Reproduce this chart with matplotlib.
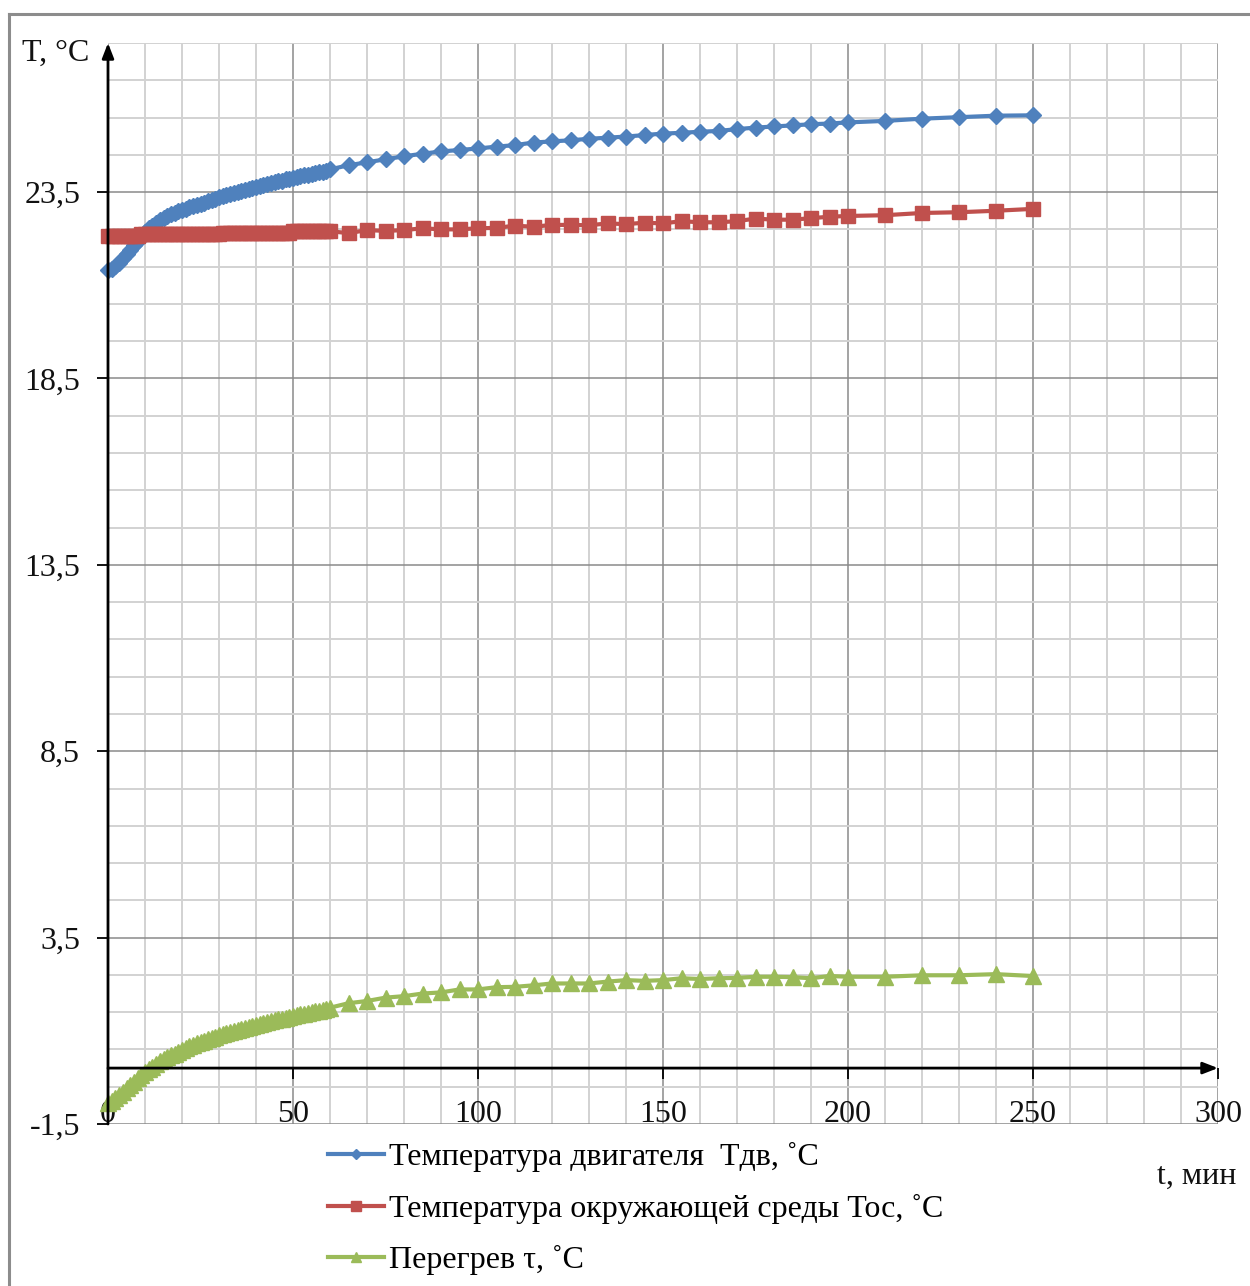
import matplotlib
matplotlib.use("Agg")
import matplotlib.pyplot as plt
from matplotlib.lines import Line2D
from matplotlib.ticker import MultipleLocator, FixedLocator, FuncFormatter
import numpy as np

plt.rcParams['font.family'] = ['Liberation Serif', 'DejaVu Serif']

# time, min: every minute up to 60, then every 5 min up to 200, then every 10 min
time_min = list(range(0, 61)) + list(range(65, 201, 5)) + list(range(210, 251, 10))

# motor temperature, °C
t_motor = [
    21.42, 21.45, 21.52, 21.60, 21.72, 21.84, 21.96, 22.08, 22.20, 22.32,
    22.44, 22.53, 22.60, 22.67, 22.74, 22.80, 22.85, 22.90, 22.94, 22.98,
    23.02, 23.06, 23.09, 23.13, 23.16, 23.19, 23.22, 23.25, 23.28, 23.31,
    23.36, 23.39, 23.42, 23.44, 23.47, 23.50, 23.53, 23.56, 23.59, 23.62,
    23.64, 23.67, 23.69, 23.72, 23.74, 23.77, 23.79, 23.81, 23.84, 23.86,
    23.88, 23.90, 23.93, 23.95, 23.97, 23.99, 24.01, 24.03, 24.05, 24.07,
    24.11,
    24.22, 24.30, 24.38, 24.46, 24.53, 24.59, 24.63, 24.67, 24.72, 24.76,
    24.83, 24.86, 24.89, 24.93, 24.96, 24.99, 25.03, 25.07, 25.09, 25.12,
    25.14, 25.19, 25.23, 25.26, 25.29, 25.32, 25.34, 25.37,
    25.41, 25.47, 25.51, 25.55, 25.56,
]

# ambient temperature, °C
t_ambient = [
    22.32, 22.32, 22.32, 22.32, 22.32, 22.32, 22.32, 22.32, 22.32, 22.37,
    22.37, 22.37, 22.37, 22.37, 22.37, 22.37, 22.37, 22.37, 22.37, 22.37,
    22.37, 22.37, 22.37, 22.37, 22.37, 22.37, 22.37, 22.37, 22.37, 22.37,
    22.37, 22.41, 22.41, 22.41, 22.41, 22.41, 22.41, 22.41, 22.41, 22.41,
    22.41, 22.41, 22.41, 22.41, 22.41, 22.41, 22.41, 22.41, 22.41, 22.41,
    22.45, 22.45, 22.45, 22.45, 22.45, 22.45, 22.45, 22.45, 22.45, 22.45,
    22.45,
    22.40, 22.48, 22.46, 22.48, 22.53, 22.50, 22.50, 22.53, 22.54, 22.60,
    22.57, 22.62, 22.62, 22.61, 22.66, 22.64, 22.68, 22.66, 22.72, 22.69,
    22.69, 22.72, 22.79, 22.76, 22.76, 22.80, 22.84, 22.86,
    22.88, 22.94, 22.96, 23.00, 23.05,
]

# overheating, °C
t_overheat = [
    -0.95, -0.88, -0.80, -0.72, -0.63, -0.54, -0.45, -0.36, -0.27, -0.18,
    -0.10, -0.03, 0.04, 0.11, 0.18, 0.24, 0.29, 0.34, 0.39, 0.44,
    0.49, 0.53, 0.58, 0.62, 0.66, 0.70, 0.74, 0.77, 0.81, 0.84,
    0.88, 0.91, 0.94, 0.97, 1.00, 1.03, 1.06, 1.08, 1.11, 1.14,
    1.16, 1.19, 1.21, 1.24, 1.26, 1.29, 1.31, 1.33, 1.35, 1.38,
    1.40, 1.42, 1.44, 1.46, 1.48, 1.50, 1.52, 1.54, 1.56, 1.58,
    1.62,
    1.74, 1.80, 1.89, 1.93, 2.00, 2.03, 2.11, 2.11, 2.17, 2.18,
    2.22, 2.27, 2.27, 2.27, 2.32, 2.36, 2.34, 2.36, 2.41, 2.39,
    2.41, 2.42, 2.45, 2.45, 2.44, 2.41, 2.47, 2.45,
    2.45, 2.49, 2.49, 2.52, 2.47,
]

series_labels = [
    'Температура двигателя  Тдв, ˚С',
    'Температура окружающей среды Тос, ˚С',
    'Перегрев τ, ˚С',
]
colors = ['#4F81BD', '#C0504D', '#9BBB59']
markers = ['D', 's', '^']
marker_sizes = [8.0, 10.0, 11.0]

x_ticks = [0, 50, 100, 150, 200, 250, 300]
y_ticks = [-1.5, 3.5, 8.5, 13.5, 18.5, 23.5]

W, H = 1250, 1286
fig = plt.figure(figsize=(W / 100, H / 100), dpi=100)
ax = fig.add_axes([108 / W, 1 - 1124 / H, (1218 - 108) / W, (1124 - 43) / H])

ax.set_xlim(0, 300)
ax.set_ylim(-1.5, 27.5)

ax.xaxis.set_major_locator(FixedLocator(x_ticks))
ax.xaxis.set_minor_locator(MultipleLocator(10))
ax.yaxis.set_major_locator(FixedLocator(y_ticks))
ax.yaxis.set_minor_locator(FixedLocator(np.arange(-1.5, 27.6, 1.0)))
ax.yaxis.set_major_formatter(FuncFormatter(lambda v, p: f"{v:.1f}".replace('.', ',')))
ax.xaxis.set_major_formatter(FuncFormatter(lambda v, p: f"{v:.0f}"))

ax.grid(which='major', color='#8a8a8a', linewidth=1.1, zorder=0)
ax.grid(which='minor', color='#d2d2d2', linewidth=1.4, zorder=0)
ax.set_axisbelow(True)

for s in ['top', 'right']:
    ax.spines[s].set_visible(False)
ax.spines['bottom'].set_position(('data', 0))
ax.spines['left'].set_position(('data', 0))
ax.spines['bottom'].set_color('none')
ax.spines['left'].set_color('none')

ax.tick_params(which='major', direction='out', length=8, width=1.3, color='black',
               labelsize=23, labelcolor='#111111')
ax.tick_params(which='minor', length=0)
ax.tick_params(axis='x', which='major', pad=15)
ax.tick_params(axis='y', which='major', pad=12)

# axes with arrows
ax.annotate('', xy=(0, 27.5), xytext=(0, -1.5), xycoords='data',
            arrowprops=dict(arrowstyle='-|>,head_length=0.9,head_width=0.35',
                            color='black', lw=2.0, shrinkA=0, shrinkB=0),
            annotation_clip=False, zorder=5)
ax.annotate('', xy=(300, 0), xytext=(0, 0), xycoords='data',
            arrowprops=dict(arrowstyle='-|>,head_length=0.9,head_width=0.35',
                            color='black', lw=2.0, shrinkA=0, shrinkB=0),
            annotation_clip=False, zorder=5)

handles = []
for ys, c, m, ms, lab in zip([t_motor, t_ambient, t_overheat], colors, markers,
                             marker_sizes, series_labels):
    ax.plot(time_min, ys, color=c, lw=3.0, marker=m, ms=ms,
            markeredgecolor=c, label=lab, zorder=3, clip_on=False)
    handles.append(Line2D([], [], color=c, lw=3.0, marker=m,
                          ms=ms * 0.7, markeredgecolor=c))

fig.legend(handles, series_labels, loc='upper left',
           bbox_to_anchor=(328 / W, 1 - 1142 / H), frameon=False,
           prop={'family': 'Liberation Serif', 'size': 23},
           handlelength=1.75, handletextpad=0.15, labelspacing=0.68,
           borderpad=0, borderaxespad=0)

fig.text(22 / W, 1 - 53 / H, 'T, °C', fontsize=23, ha='left', va='center', color='#111111')
fig.text(1236 / W, 1 - 1176 / H, 't, мин', fontsize=23, ha='right', va='center', color='#111111')

# outer frame
fig.add_artist(Line2D([9 / W, 9 / W], [0, 1 - 14 / H], color='#8c8c8c', lw=2.2,
                      transform=fig.transFigure))
fig.add_artist(Line2D([9 / W, 1], [1 - 14 / H, 1 - 14 / H], color='#8c8c8c', lw=2.2,
                      transform=fig.transFigure))

fig.savefig('out.png', dpi=100)
